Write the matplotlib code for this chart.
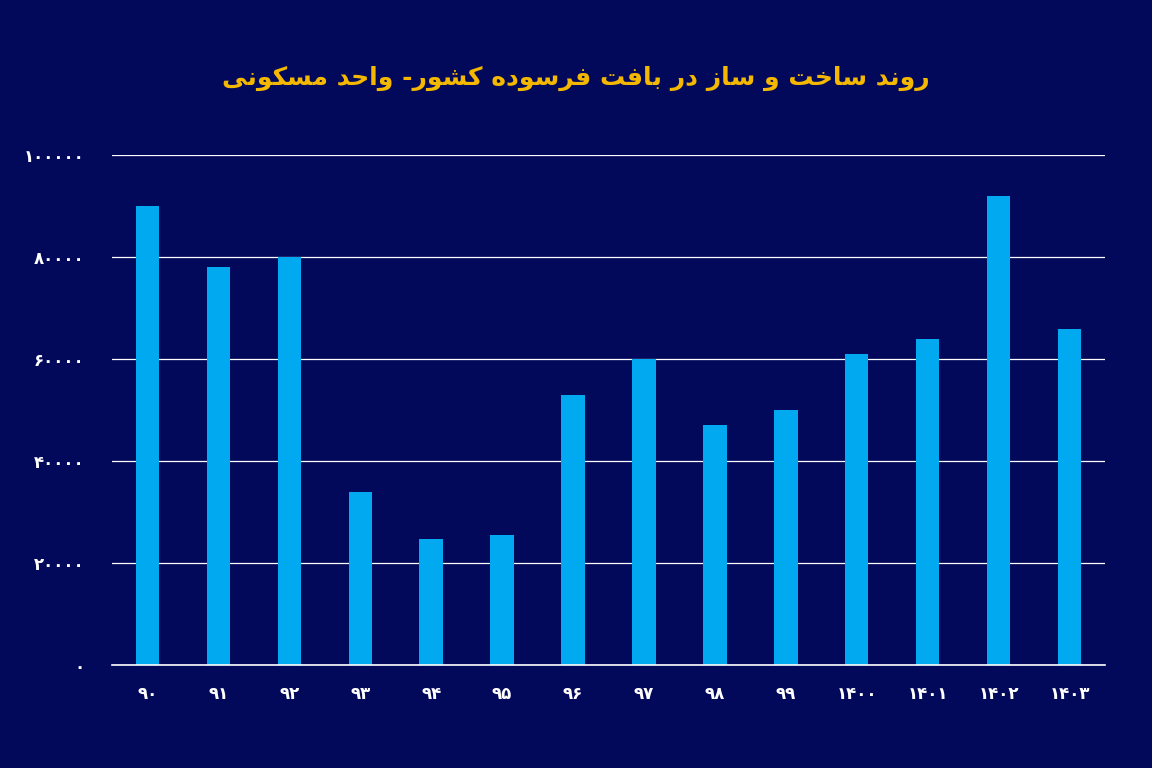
import matplotlib
matplotlib.use("Agg")
import matplotlib.pyplot as plt

# data
years = ["۹۰", "۹۱", "۹۲", "۹۳", "۹۴", "۹۵", "۹۶", "۹۷", "۹۸", "۹۹", "۱۴۰۰", "۱۴۰۱", "۱۴۰۲", "۱۴۰۳"]
units = [90000, 78000, 80000, 34000, 24700, 25500, 53000, 60000, 47000, 50000, 61000, 64000, 92000, 66000]
yticks = [0, 20000, 40000, 60000, 80000, 100000]
ytick_labels = ["۰", "۲۰۰۰۰", "۴۰۰۰۰", "۶۰۰۰۰", "۸۰۰۰۰", "۱۰۰۰۰۰"]
title = "روند ساخت و ساز در بافت فرسوده کشور- واحد مسکونی"

# minimal arabic shaping: (isolated, final, initial, medial)
FORMS = {
    "ا": (0xFE8D, 0xFE8E, None, None),
    "د": (0xFEA9, 0xFEAA, None, None),
    "ر": (0xFEAD, 0xFEAE, None, None),
    "ز": (0xFEAF, 0xFEB0, None, None),
    "و": (0xFEED, 0xFEEE, None, None),
    "ب": (0xFE8F, 0xFE90, 0xFE91, 0xFE92),
    "ت": (0xFE95, 0xFE96, 0xFE97, 0xFE98),
    "ح": (0xFEA1, 0xFEA2, 0xFEA3, 0xFEA4),
    "خ": (0xFEA5, 0xFEA6, 0xFEA7, 0xFEA8),
    "س": (0xFEB1, 0xFEB2, 0xFEB3, 0xFEB4),
    "ش": (0xFEB5, 0xFEB6, 0xFEB7, 0xFEB8),
    "ف": (0xFED1, 0xFED2, 0xFED3, 0xFED4),
    "م": (0xFEE1, 0xFEE2, 0xFEE3, 0xFEE4),
    "ن": (0xFEE5, 0xFEE6, 0xFEE7, 0xFEE8),
    "ه": (0xFEE9, 0xFEEA, 0xFEEB, 0xFEEC),
    "ک": (0xFB8E, 0xFB8F, 0xFB90, 0xFB91),
    "ی": (0xFBFC, 0xFBFD, 0xFBFE, 0xFBFF),
}

def shape(s):
    out = []
    for i, c in enumerate(s):
        if c not in FORMS:
            out.append(c)
            continue
        prev = s[i - 1] if i > 0 else ""
        nxt = s[i + 1] if i + 1 < len(s) else ""
        join_prev = prev in FORMS and FORMS[prev][2] is not None
        join_next = nxt in FORMS and FORMS[c][2] is not None
        f = FORMS[c]
        if join_prev and join_next:
            code = f[3]
        elif join_prev:
            code = f[1]
        elif join_next:
            code = f[2]
        else:
            code = f[0]
        out.append(chr(code))
    return "".join(out)[::-1]

bg = "#02095a"
fig = plt.figure(figsize=(11.52, 7.68), dpi=100, facecolor=bg)
ax = fig.add_axes([0.0972, 0.134, 0.862, 0.664], facecolor=bg)
x = list(range(len(years)))
ax.bar(x, units, width=0.33, color="#00a9f0", zorder=3)
ax.set_xlim(-0.5, len(years) - 0.5)
ax.set_ylim(0, 100000)
ax.set_yticks(yticks)
ax.set_yticklabels(ytick_labels)
ax.set_xticks(x)
ax.set_xticklabels(years)
ax.grid(axis="y", color="white", linewidth=0.9, zorder=1)
ax.axhline(0, color="white", linewidth=1.2, zorder=4, clip_on=False)
for sp in ax.spines.values():
    sp.set_visible(False)
ax.tick_params(length=0, colors="white", labelsize=12)
ax.tick_params(axis="y", pad=20)
ax.tick_params(axis="x", pad=14)
for t in ax.get_xticklabels() + ax.get_yticklabels():
    t.set_fontweight("bold")
    t.set_family("DejaVu Sans")
fig.text(0.5, 0.898, shape(title), color="#f5b800", fontsize=18, fontweight="bold",
         ha="center", va="center", family="DejaVu Sans")
fig.savefig("out.png", dpi=100, facecolor=bg)
